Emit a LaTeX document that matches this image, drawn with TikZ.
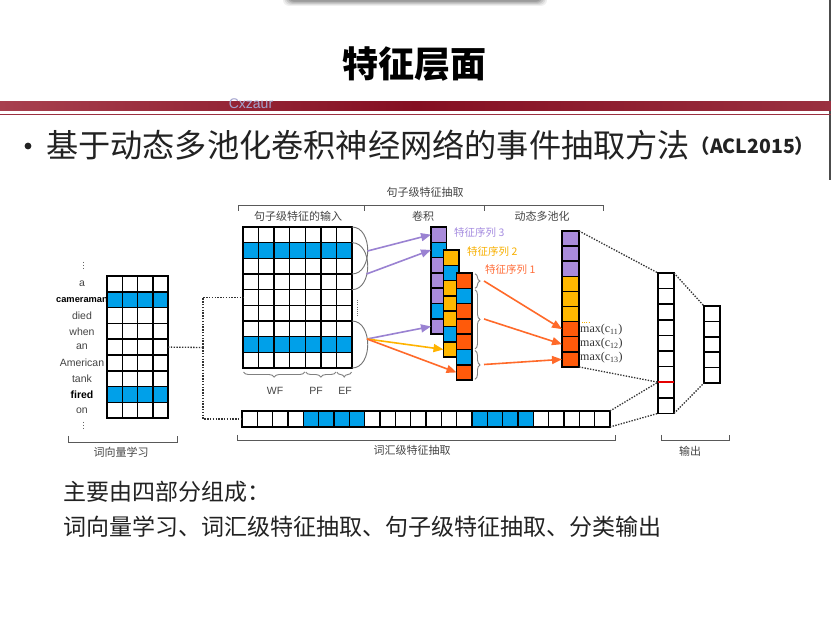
\documentclass[tikz,border=0pt]{standalone}
\usepackage{fontspec}
\setmainfont{Liberation Sans}
\newfontfamily\cjk{Noto Sans CJK SC}
\newfontfamily\serifrm{Liberation Serif}
\usetikzlibrary{arrows.meta,decorations.pathreplacing,calc}

\definecolor{cblue}{HTML}{00A0E9}
\definecolor{cpurple}{HTML}{A98BDB}
\definecolor{cyellow}{HTML}{FFB800}
\definecolor{corange}{HTML}{FF5A0A}
\definecolor{apurple}{HTML}{9A82D2}
\definecolor{ayellow}{HTML}{FFB300}
\definecolor{aorange}{HTML}{FF6A2A}
\definecolor{lpurple}{HTML}{A58CE0}
\definecolor{lyellow}{HTML}{F8B000}
\definecolor{lorange}{HTML}{FF6E3A}
\definecolor{barA}{HTML}{A8404F}
\definecolor{barB}{HTML}{850F22}
\definecolor{barC}{HTML}{9A3040}
\definecolor{shade}{HTML}{6A4A50}
\definecolor{txt}{HTML}{222222}
\definecolor{lbl}{HTML}{444444}

\tikzset{
  cell/.style={draw=black, line width=1.5pt, inner sep=0pt, outer sep=0pt},
  wvcell/.style={cell, minimum width=15.25pt, minimum height=15.8pt},
  incell/.style={cell, minimum width=15.57pt, minimum height=15.67pt},
  convcell/.style={cell, minimum width=15.5pt, minimum height=15.3pt},
  poolcell/.style={cell, minimum width=17pt, minimum height=15.1pt},
  outcell/.style={cell, minimum width=16pt, minimum height=15.6pt},
  outcellb/.style={cell, minimum width=16pt, minimum height=15.4pt},
  lxcell/.style={cell, minimum width=15.33pt, minimum height=16pt},
  wordlbl/.style={inner sep=0pt, font=\fontsize{10.5}{12}\selectfont, text=lbl},
  seclbl/.style={inner sep=0pt, font=\cjk\fontsize{11}{13}\selectfont, text=lbl},
  featlbl/.style={inner sep=0pt, anchor=west, font=\cjk\fontsize{10.5}{12}\selectfont},
  maxlbl/.style={inner sep=0pt, anchor=west, font=\serifrm\fontsize{12}{14}\selectfont, text=black!80},
  brk/.style={draw=black!65, line width=0.9pt},
  brc/.style={draw=black!50, line width=0.9pt, decorate, decoration={brace, amplitude=5pt}},
  arcline/.style={draw=black!55, line width=0.9pt},
  dotl/.style={draw=black!80, line width=1.3pt, dash pattern=on 1.4pt off 1.4pt},
  parrow/.style={draw=apurple, line width=1.6pt, -{Triangle[length=10pt,width=8pt]}},
  yarrow/.style={draw=ayellow, line width=1.6pt, -{Triangle[length=10pt,width=8pt]}},
  oarrow/.style={draw=aorange, line width=1.6pt, -{Triangle[length=10pt,width=8pt]}},
}

\begin{document}
\begin{tikzpicture}[x=1pt,y=-1pt]
\useasboundingbox (0,0) rectangle (831,620);
\fill[white] (0,0) rectangle (831,620);

% soft shadow of the slide tab above the title
\foreach \d/\o in {7/0.06,5.5/0.08,4/0.12,2.5/0.18,1.2/0.25}
  \fill[shade, opacity=\o, rounded corners=6pt] ({290-\d},-12) rectangle ({540+\d},{1+\d*0.7});
\draw[black!70, line width=1.5pt] (830.2,0) -- (830.2,180);

% title and header bar
\node[font=\cjk\bfseries\fontsize{36}{40}\selectfont, text=black] (title) at (414,64) {特征层面};
\shade[left color=barA, right color=barC, middle color=barB] (0,102) rectangle (831,111);
\draw[barC, line width=1.6pt] (0,114.5) -- (831,114.5);
\node[font=\fontsize{14}{16}\selectfont, text=blue!30!gray!55] (wm) at (251,104) {Cxzaur};

% bullet heading
\fill[txt] (28,146) circle (3.4);
\node[anchor=west, inner sep=0pt, font=\cjk\fontsize{32.2}{36}\selectfont, text=txt] (head) at (46,145) {基于动态多池化卷积神经网络的事件抽取方法};
\node[anchor=west, inner sep=0pt, font=\cjk\bfseries\fontsize{19.5}{22}\selectfont, text=txt] (acl) at ($(head.east)+(0,1)$) {（ACL2015）};

% ---------- word vectors ----------
\foreach \r/\w in {0/a,1/{\fontsize{9.3}{11}\selectfont\bfseries\color{black}cameraman},2/died,3/when,4/an,5/American,6/tank,7/\textbf{\color{black}fired},8/on}
  \node[wordlbl] (word-\r) at (82,{276+15.8*(\r+0.5)}) {\w};
\draw[black!60, line width=0.9pt, dash pattern=on 1pt off 2pt] (83,262) -- (83,271);
\draw[black!60, line width=0.9pt, dash pattern=on 1pt off 2pt] (83,422) -- (83,431);
\foreach \r/\f in {0/white,1/cblue,2/white,3/white,4/white,5/white,6/white,7/cblue,8/white}
  \foreach \c in {0,...,3}
    \node[wvcell, fill=\f] (wv-\r-\c) at ({107+15.25*(\c+0.5)},{276+15.8*(\r+0.5)}) {};

% ---------- sentence-level input ----------
\foreach \r/\f in {0/white,1/cblue,2/white,3/white,4/white,5/white,6/white,7/cblue,8/white}
  \foreach \c in {0,...,6}
    \node[incell, fill=\f] (in-\r-\c) at ({243+15.57*(\c+0.5)},{227+15.67*(\r+0.5)}) {};

% ---------- lexical-level row ----------
\foreach \i in {0,...,23}{
  \def\f{white}
  \ifnum\i>3 \ifnum\i<8 \def\f{cblue}\fi\fi
  \ifnum\i>14 \ifnum\i<19 \def\f{cblue}\fi\fi
  \node[lxcell, fill=\f] (lx-\i) at ({242+15.33*(\i+0.5)},419) {};
}

% dotted links from the word vectors
\coordinate (split) at (203,347.5);
\draw[dotl] (wv-4-3.east) -- (split);
\draw[dotl] (split) |- (in-4-0.west);
\draw[dotl] (split) |- (lx-0.west);

% convolution windows
\draw[arcline] (in-0-6.north east) .. controls +(21,0) and +(21,0) .. (in-2-6.south east);
\draw[arcline] (in-1-6.north east) .. controls +(21,0) and +(21,0) .. (in-3-6.south east);
\draw[arcline] (in-6-6.north east) .. controls +(21,0) and +(21,0) .. (in-8-6.south east);
\draw[black!55, line width=0.9pt, dash pattern=on 0.9pt off 1.3pt] (357,300) -- (357,317);
\coordinate (s1) at (367.5,251);
\coordinate (s2) at (366.5,274);
\coordinate (s3) at (367,339);

% WF / PF / EF braces
\draw[brc] ($(in-8-3.south east)+(-0.5,4)$) -- ($(in-8-0.south west)+(0.5,4)$);
\draw[brc] ($(in-8-5.south east)+(-0.5,4)$) -- ($(in-8-4.south west)+(0.5,4)$);
\draw[brc] ($(in-8-6.south east)+(-0.5,4)$) -- ($(in-8-6.south west)+(0.5,4)$);
\node[wordlbl] (wf) at (275,391) {WF};
\node[wordlbl] (pf) at (316,391) {PF};
\node[wordlbl] (ef) at (345,391) {EF};

% ---------- convolution feature maps ----------
\foreach \i/\f in {0/cpurple,1/cblue,2/cpurple,3/cpurple,4/cpurple,5/cblue,6/cpurple}
  \node[convcell, fill=\f] (ca-\i) at (438.75,{227+15.3*(\i+0.5)}) {};
\foreach \i/\f in {0/cyellow,1/cblue,2/cyellow,3/cyellow,4/cyellow,5/cblue,6/cyellow}
  \node[convcell, fill=\f] (cb-\i) at (451.25,{250+15.3*(\i+0.5)}) {};
\foreach \i/\f in {0/corange,1/cblue,2/corange,3/corange,4/corange,5/cblue,6/corange}
  \node[convcell, fill=\f] (cc-\i) at (464.25,{273+15.3*(\i+0.5)}) {};

\draw[parrow] (s1) -- (ca-0.west);
\draw[parrow] (s2) -- (ca-1.west);
\draw[parrow] (s3) -- (ca-6.west);
\draw[yarrow] (s3) -- (cb-6.west);
\draw[oarrow] (s3) -- (cc-6.west);

\node[featlbl, text=lpurple] (f3) at (454,233) {特征序列 3};
\node[featlbl, text=lyellow] (f2) at (467,252) {特征序列 2};
\node[featlbl, text=lorange] (f1) at (485,270) {特征序列 1};

% segment braces of feature map 1
\draw[brc] ($(cc-0.north east)+(3,0.8)$) -- ($(cc-0.south east)+(3,0)$);
\draw[brc] ($(cc-1.north east)+(3,1.5)$) -- ($(cc-4.south east)+(3,-0.5)$);
\draw[brc] ($(cc-5.north east)+(3,1)$) -- ($(cc-6.south east)+(3,-0.8)$);
\coordinate (t1) at (484,281);
\coordinate (t2) at (484,319);
\coordinate (t3) at (484,364.5);

% ---------- dynamic multi-pooling ----------
\foreach \i/\f in {0/cpurple,1/cpurple,2/cpurple,3/cyellow,4/cyellow,5/cyellow,6/corange,7/corange,8/corange}
  \node[poolcell, fill=\f] (pl-\i) at (570.5,{231+15.1*(\i+0.5)}) {};
\draw[oarrow] (t1) -- (pl-6.west);
\draw[oarrow] (t2) -- (pl-7.west);
\draw[oarrow] (t3) -- (pl-8.west);
\draw[lyellow, line width=0.9pt, dash pattern=on 0.9pt off 1.3pt] (582,322) -- (590,322);
\node[maxlbl] (m1) at (580,330) {max(c\textsubscript{11})};
\node[maxlbl] (m2) at (580,344) {max(c\textsubscript{12})};
\node[maxlbl] (m3) at (580,358) {max(c\textsubscript{13})};

% ---------- output ----------
\foreach \i in {0,...,8}
  \node[outcell, fill=white] (o1-\i) at (666,{273+15.6*(\i+0.5)}) {};
\foreach \i in {0,...,4}
  \node[outcellb, fill=white] (o2-\i) at (712,{306+15.4*(\i+0.5)}) {};
\draw[red!90!black, line width=2pt] (o1-6.south west) -- (o1-6.south east);

\draw[dotl] (pl-0.north east) -- (o1-0.north west);
\draw[dotl] (pl-8.south east) -- (o1-6.south west);
\draw[dotl] (lx-23.north east) -- (o1-6.south west);
\draw[dotl] (lx-23.south east) -- (o1-8.south west);
\draw[dotl] (o1-0.north east) -- (o2-0.north west);
\draw[dotl] (o1-8.south east) -- (o2-4.south west);

% ---------- section brackets ----------
\draw[brk] (238,211) -- (238,205) -- (603,205) -- (603,211);
\draw[brk] (364,205) -- (364,211);
\draw[brk] (484,205) -- (484,211);
\node[seclbl] (sent) at (425,192) {句子级特征抽取};
\node[seclbl] (sin) at (298,216) {句子级特征的输入};
\node[seclbl] (conv) at (423,216) {卷积};
\node[seclbl] (dmp) at (542,216) {动态多池化};

\draw[brk] (68,436) -- (68,442) -- (177,442) -- (177,436);
\node[seclbl] (wvl) at (121,452) {词向量学习};
\draw[brk] (237,435) -- (237,440) -- (615,440) -- (615,435);
\node[seclbl] (lxl) at (412,450) {词汇级特征抽取};
\draw[brk] (661,435) -- (661,440) -- (729,440) -- (729,435);
\node[seclbl] (outl) at (690,451) {输出};

% ---------- summary ----------
\node[anchor=west, inner sep=0pt, font=\cjk\fontsize{23}{28}\selectfont, text=txt] (sum1) at (63,492) {主要由四部分组成：};
\node[anchor=west, inner sep=0pt, font=\cjk\fontsize{23}{28}\selectfont, text=txt] (sum2) at (63,527) {词向量学习、词汇级特征抽取、句子级特征抽取、分类输出};
\end{tikzpicture}
\end{document}
